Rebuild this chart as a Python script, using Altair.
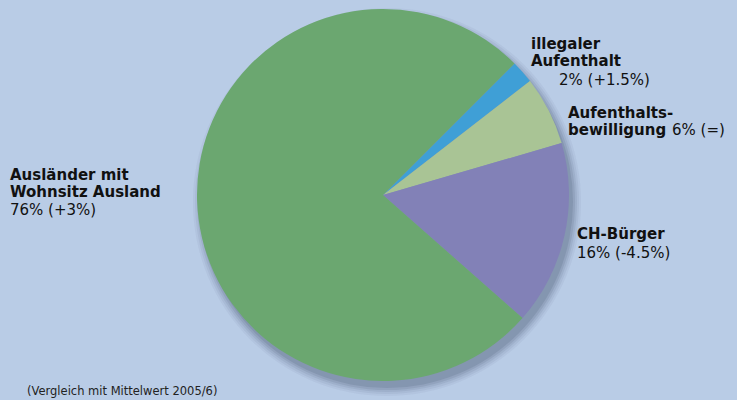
import math
import altair as alt
import pandas as pd

# Data
categories = ["illegaler Aufenthalt", "Aufenthaltsbewilligung", "CH-Bürger", "Ausländer mit Wohnsitz Ausland"]
shares = [2, 6, 16, 76]
colors = ["#3f9fd6", "#a9c495", "#8281b7", "#6ba770"]

# Label blocks: bold part (lines joined by \n), normal part
bold_text = ["illegaler\nAufenthalt", "Aufenthalts-\nbewilligung", "Ausländer mit\nWohnsitz Ausland", "CH-Bürger"]
bold_x = [531, 568, 10, 577]
bold_y = [49, 118, 180, 239]
norm_text = ["2% (+1.5%)", "6% (=)", "76% (+3%)", "16% (-4.5%)"]
norm_x = [559, 672, 10, 577]
norm_y = [85, 135, 215, 258]
footnote = "(Vergleich mit Mittelwert 2005/6)"

CX, CY, R = 383, 195, 186
BG = "#b9cce6"

df = pd.DataFrame({"cat": categories, "share": shares, "order": list(range(len(categories)))})
bdf = pd.DataFrame({"t": bold_text, "x": bold_x, "y": bold_y})
ndf = pd.DataFrame({"t": norm_text, "x": norm_x, "y": norm_y})

# soft shadow (full circles behind the pie, slightly offset)
shadow_layers = []
for dr, op in [(8, 0.05), (6, 0.07), (4, 0.09), (2, 0.11), (0, 0.14)]:
    shadow_layers.append(
        alt.Chart(pd.DataFrame({"v": [1]})).mark_arc(
            radius=R + dr, color="#34445f", opacity=op, theta=0, theta2=2 * math.pi
        ).encode(x=alt.value(CX + 4), y=alt.value(CY + 7))
    )

pie = alt.Chart(df).mark_arc(radius=R).encode(
    theta=alt.Theta("share:Q", stack=True,
                    scale=alt.Scale(range=[math.pi / 4, math.pi / 4 + 2 * math.pi])),
    color=alt.Color("cat:N", scale=alt.Scale(domain=categories, range=colors), legend=None),
    order=alt.Order("order:Q"),
    x=alt.value(CX), y=alt.value(CY),
)

bold_txt = alt.Chart(bdf).mark_text(
    align="left", baseline="alphabetic", font="DejaVu Sans", fontSize=15,
    fontWeight="bold", color="#111111", lineBreak="\n", lineHeight=17
).encode(x=alt.X("x:Q", scale=None), y=alt.Y("y:Q", scale=None), text="t:N")

norm_txt = alt.Chart(ndf).mark_text(
    align="left", baseline="alphabetic", font="DejaVu Sans", fontSize=15,
    color="#111111"
).encode(x=alt.X("x:Q", scale=None), y=alt.Y("y:Q", scale=None), text="t:N")

foot = alt.Chart(pd.DataFrame({"t": [footnote]})).mark_text(
    align="left", baseline="alphabetic", font="DejaVu Sans", fontSize=11.5, color="#222222"
).encode(x=alt.value(27), y=alt.value(395), text="t:N")

chart = alt.layer(*shadow_layers, pie, bold_txt, norm_txt, foot).properties(
    width=737, height=400, padding=0, autosize="none", background=BG
).configure_view(stroke=None)

chart.save("out.html", embed_options={"renderer": "svg", "actions": False})
